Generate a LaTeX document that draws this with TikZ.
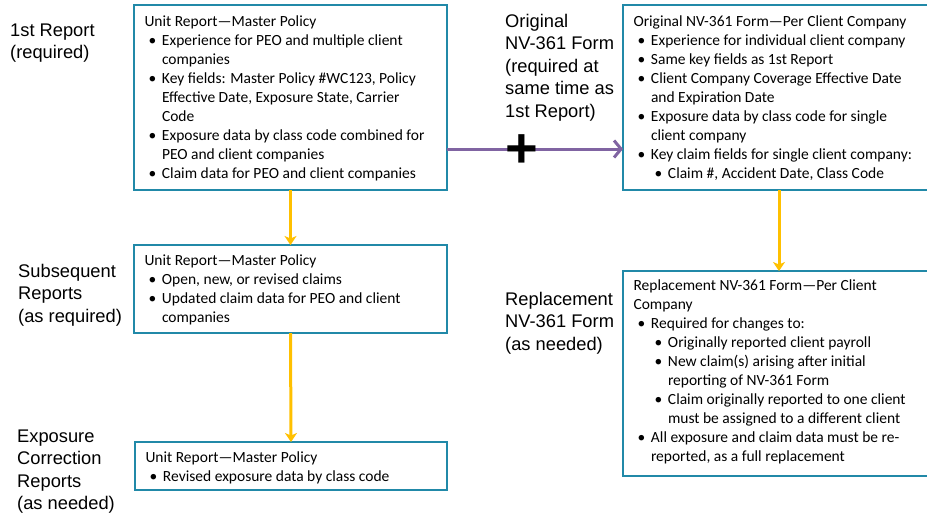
\documentclass[tikz,border=0pt]{standalone}
\usepackage{fontspec}
\setmainfont{Liberation Sans}
\newfontfamily\boxfont{Carlito}
\usetikzlibrary{arrows.meta}

\definecolor{boxline}{RGB}{33,137,168}
\definecolor{flowyellow}{RGB}{255,192,0}
\definecolor{flowpurple}{RGB}{128,100,162}

% bullet levels inside the report boxes (\nl keeps the hanging indent)
\newcommand\nl{\newline}
\newcommand\bpt[1]{\par\noindent\hangindent=17.5pt\hangafter=1\makebox[17.5pt][l]{\hspace{4pt}\textbullet}#1}
\newcommand\bsub[1]{\par\noindent\hangindent=34.5pt\hangafter=1\makebox[34.5pt][l]{\hspace{21pt}\textbullet}#1}
% box body: width, height, first baseline offset, content
\newcommand\boxbody[4]{\parbox[t][#2][t]{#1}{\boxfont\fontsize{15.5}{19}\selectfont\raggedright\noindent\rule{0pt}{#3}#4}}
\newcommand\lstrut{\rule{0pt}{14pt}}

\begin{document}
\begin{tikzpicture}[x=1pt,y=-1pt,
  report/.style={draw=boxline, line width=2.6pt, inner xsep=10.5pt, inner ysep=0pt, outer sep=0pt, anchor=north west},
  stage/.style={anchor=north west, inner sep=0pt, align=left, font={\fontsize{18.3}{22.5}\selectfont}},
  yarrow/.style={draw=flowyellow, line width=3pt, -{Stealth[length=9pt,width=12pt,inset=2.5pt]}},
  parrow/.style={draw=flowpurple, line width=3pt, -{Straight Barb[length=7pt,width=17pt]}}]
\useasboundingbox (0,0) rectangle (927,512);

% stage labels
\node[stage] (lfirst) at (10,22) {\lstrut 1st Report\\(required)};
\node[stage] (lsub) at (18,263) {\lstrut Subsequent\\Reports\\(as required)};
\node[stage] (lexp) at (17,428) {\lstrut Exposure\\Correction\\Reports\\(as needed)};
\node[stage] (lorig) at (505,13) {\lstrut Original\\NV-361 Form\\(required at\\same time as\\1st Report)};
\node[stage] (lrepl) at (505,291) {\lstrut Replacement\\NV-361 Form\\(as needed)};

% report boxes
\node[report] (first) at (134,5) {\boxbody{292pt}{185pt}{21.5pt}{Unit Report—Master Policy
  \bpt{Experience for PEO and multiple client\nl companies}
  \bpt{Key fields: Master Policy \#WC123, Policy\nl Effective Date, Exposure State, Carrier\nl Code}
  \bpt{Exposure data by class code combined for\nl PEO and client companies}
  \bpt{Claim data for PEO and client companies}}};

\node[report] (orig) at (623,5) {\boxbody{291pt}{185pt}{21pt}{Original NV-361 Form—Per Client Company
  \bpt{Experience for individual client company}
  \bpt{Same key fields as 1st Report}
  \bpt{Client Company Coverage Effective Date\nl and Expiration Date}
  \bpt{Exposure data by class code for single\nl client company}
  \bpt{Key claim fields for single client company:}
  \bsub{Claim \#, Accident Date, Class Code}}};

\node[report] (subs) at (134,245) {\boxbody{292pt}{88pt}{20pt}{Unit Report—Master Policy
  \bpt{Open, new, or revised claims}
  \bpt{Updated claim data for PEO and client\nl companies}}};

\node[report] (repl) at (623,271) {\boxbody{291pt}{205pt}{19.5pt}{Replacement NV-361 Form—Per Client\nl Company
  \bpt{Required for changes to:}
  \bsub{Originally reported client payroll}
  \bsub{New claim(s) arising after initial\nl reporting of NV-361 Form}
  \bsub{Claim originally reported to one client\nl must be assigned to a different client}
  \bpt{All exposure and claim data must be re-\nl reported, as a full replacement}}};

\node[report] (expc) at (135,442) {\boxbody{291pt}{48pt}{20pt}{Unit Report—Master Policy
  \bpt{Revised exposure data by class code}}};

% connectors
\draw[yarrow] (first.south) -- (subs.north);
\draw[yarrow] (subs.south) -- (expc.north);
\draw[yarrow] (orig.south) -- (repl.north);
\draw[parrow] (first.east |- 0,149) -- (orig.west |- 0,149);
\node[inner sep=0pt, font={\fontsize{56}{56}\bfseries}] (plus) at (522,151) {+};
\end{tikzpicture}
\end{document}
